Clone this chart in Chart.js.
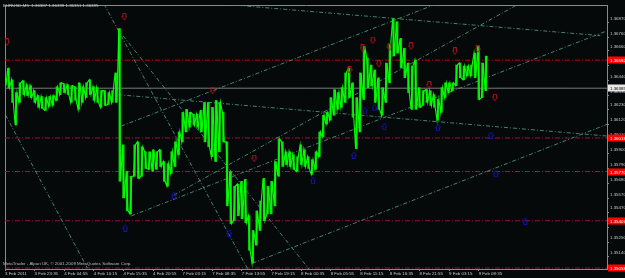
<!DOCTYPE html>
<html><head><meta charset="utf-8">
<script src="https://cdn.jsdelivr.net/npm/chart.js@4/dist/chart.umd.min.js"></script>
<style>html,body{margin:0;padding:0;background:#000;}#wrap{width:625px;height:278px;position:relative;}</style>
</head><body><div id="wrap"><canvas id="c"></canvas></div>
<script>
// ---- data (5-minute bar index / price) ----
const symbolHeader = "EURUSD,M5  1.36387 1.36399 1.36351 1.36385";
const copyrightText = "MetaTrader - Alpari UK, \u00A9 2001-2009 MetaQuotes Software Corp.";
const barsPerColumn = 8;
const colHigh = [1.36556,1.36534,1.36447,1.36353,1.36425,1.36440,1.36411,1.36404,1.36367,1.36331,
1.36324,1.36316,1.36324,1.36331,1.36396,1.36425,1.36418,1.36411,1.36404,1.36396,
1.36425,1.36396,1.36425,1.36447,1.36396,1.36389,1.36367,1.36367,1.36353,1.36367,
1.36498,1.36825,1.35967,1.35771,1.35735,1.35967,1.35989,1.35953,1.35916,1.35916,
1.35931,1.35916,1.35931,1.35844,1.35829,1.35916,1.35989,1.36062,1.36207,1.36229,
1.36207,1.36193,1.36193,1.36222,1.36280,1.36280,1.36244,1.36295,1.36280,1.36207,
1.35989,1.35771,1.35662,1.35677,1.35698,1.35713,1.35444,1.35335,1.35480,1.35553,
1.35720,1.35662,1.35698,1.35844,1.36011,1.35989,1.35916,1.35916,1.35895,1.35880,
1.35967,1.35931,1.35880,1.35858,1.35916,1.36062,1.36185,1.36207,1.36316,1.36375,
1.36353,1.36389,1.36498,1.36534,1.36425,1.36316,1.36498,1.36694,1.36607,1.36556,
1.36520,1.36462,1.36389,1.36571,1.36716,1.36898,1.36876,1.36753,1.36680,1.36571,
1.36549,1.36593,1.36389,1.36367,1.36375,1.36367,1.36338,1.36302,1.36389,1.36425,
1.36425,1.36425,1.36556,1.36571,1.36549,1.36549,1.36556,1.36643,1.36694,1.36571,
1.36622];
const colLow = [1.36404,1.36389,1.36280,1.36113,1.36280,1.36338,1.36331,1.36316,1.36280,1.36244,
1.36236,1.36222,1.36251,1.36258,1.36295,1.36338,1.36353,1.36338,1.36280,1.36295,
1.36229,1.36280,1.36316,1.36338,1.36295,1.36280,1.36244,1.36258,1.36265,1.36280,
1.36280,1.35698,1.35575,1.35480,1.35458,1.35735,1.35720,1.35735,1.35793,1.35786,
1.35771,1.35786,1.35807,1.35698,1.35662,1.35757,1.35807,1.35895,1.35989,1.36062,
1.36098,1.36113,1.36098,1.36062,1.35989,1.35953,1.35880,1.35844,1.35916,1.35989,
1.35517,1.35386,1.35408,1.35444,1.35422,1.35393,1.35189,1.35095,1.35226,1.35335,
1.35408,1.35458,1.35458,1.35517,1.35735,1.35807,1.35822,1.35807,1.35786,1.35771,
1.35822,1.35807,1.35793,1.35749,1.35786,1.35880,1.36026,1.36120,1.36149,1.36185,
1.36229,1.36244,1.36280,1.36316,1.36171,1.35938,1.36062,1.36302,1.36389,1.36404,
1.36280,1.36229,1.36185,1.36280,1.36425,1.36622,1.36643,1.36534,1.36462,1.36353,
1.36229,1.36229,1.36244,1.36258,1.36280,1.36258,1.36244,1.36149,1.36207,1.36316,
1.36353,1.36367,1.36404,1.36462,1.36447,1.36476,1.36476,1.36462,1.36302,1.36316,
1.36367];
const xTickBars = [0,64,128,192,256,320,384,448,512,576,640,704,768,832,896,960,1024];
const xTickLabels = ["3 Feb 2011","3 Feb 23:35","4 Feb 04:55","4 Feb 10:15","4 Feb 15:35","4 Feb 20:55",
"7 Feb 03:15","7 Feb 08:35","7 Feb 13:55","7 Feb 19:15","8 Feb 00:35","8 Feb 05:55","8 Feb 11:15",
"8 Feb 16:35","8 Feb 21:55","9 Feb 03:15","9 Feb 08:35"];
const yTickValues = [1.36870,1.36760,1.36660,1.36550,1.36440,1.36330,1.36230,1.36120,1.36010,
1.35900,1.35790,1.35680,1.35570,1.35470,1.35360,1.35250,1.35140];
const levelPrices = [1.36592,1.36018,1.35770,1.35407,1.35058];
const levelColors = ["#c80000","#a0103c","#b01040","#901048","#901048"];
const bidPrice = 1.36385;
const trendStartBar   = [-127, 214, 243, 535, 273, 245, 251, 427, 365];
const trendStartPrice = [1.37006,1.37006,1.36824,1.35094,1.35443,1.36337,1.36105,1.37018,1.35596];
const trendEndBar     = [178, 526, 664, 1302, 1297, 1302, 932, 1287, 1110];
const trendEndPrice   = [1.35058,1.35043,1.35021,1.36119,1.36802,1.36032,1.37006,1.36773,1.37006];
const upFractalBars   = [4,258,449,539,745,773,795,808,831,878,917,973,1022,1059];
const upFractalPrices = [1.36723,1.36911,1.36366,1.35865,1.36519,1.36679,1.36737,1.36563,1.36686,1.36693,1.36410,1.36657,1.36672,1.36315];
const downFractalBars   = [260,365,485,666,754,778,799,820,936,1050,1061,1125];
const downFractalPrices = [1.35356,1.35596,1.35319,1.35705,1.35894,1.36221,1.36243,1.36105,1.36097,1.36039,1.35756,1.35407];

// ---- styling ----
const FONT = '4.4px "Liberation Sans", Arial, sans-serif';
const AXIS = '#8a8a8a';
const TEXT = '#c8c8c8';

function arrowImg(down, color){
  const c = document.createElement('canvas'); c.width = 6; c.height = 8;
  const g = c.getContext('2d'); g.strokeStyle = color; g.lineWidth = 1;
  g.beginPath();
  if (down){ g.moveTo(1.5,0.5);g.lineTo(4.5,0.5);g.lineTo(4.5,3.5);g.lineTo(5.5,3.5);g.lineTo(3,7);g.lineTo(0.5,3.5);g.lineTo(1.5,3.5);g.closePath(); }
  else { g.moveTo(1.5,7.5);g.lineTo(4.5,7.5);g.lineTo(4.5,4.5);g.lineTo(5.5,4.5);g.lineTo(3,1);g.lineTo(0.5,4.5);g.lineTo(1.5,4.5);g.closePath(); }
  g.stroke(); return c;
}

// zigzag path through each column's range (order follows the direction of the next column)
const zig = [];
colHigh.forEach((h,i)=>{
  const l = colLow[i], b = i*barsPerColumn;
  const mid = (h+l)/2;
  const nxt = i+1<colHigh.length ? (colHigh[i+1]+colLow[i+1])/2 : mid;
  if (nxt >= mid){ zig.push({x:b-2,y:l}); zig.push({x:b+2,y:h}); }
  else { zig.push({x:b-2,y:h}); zig.push({x:b+2,y:l}); }
});

const datasets = [];
levelPrices.forEach((p,i)=>datasets.push({type:'line', data:[{x:0,y:p},{x:1302,y:p}], borderColor:levelColors[i],
  borderWidth:1, borderDash:[5,2,1,2], pointRadius:0, order:5}));
datasets.push({type:'line', data:[{x:0,y:bidPrice},{x:1302,y:bidPrice}], borderColor:'#7a7a7a', borderWidth:1, pointRadius:0, order:5});
trendStartBar.forEach((b,i)=>datasets.push({type:'line', data:[{x:b,y:trendStartPrice[i]},{x:trendEndBar[i],y:trendEndPrice[i]}],
  borderColor:'rgba(80,150,135,0.85)', borderWidth:1, borderDash:[4,2,1,2], pointRadius:0, order:4}));
datasets.push({type:'bar', data:colHigh.map((h,i)=>({x:i*barsPerColumn, y:[colLow[i], h]})),
  backgroundColor:'#00e000', borderWidth:0, barThickness:1.6, order:3});
datasets.push({type:'line', data:zig, borderColor:'#00ff00', borderWidth:1.1, pointRadius:0, tension:0, order:2});
datasets.push({type:'scatter', data:upFractalBars.map((b,i)=>({x:b,y:upFractalPrices[i]})), pointStyle:arrowImg(true,'#b0101e'), order:1});
datasets.push({type:'scatter', data:downFractalBars.map((b,i)=>({x:b,y:downFractalPrices[i]})), pointStyle:arrowImg(false,'#1414b4'), order:1});

const bg = {id:'bg', beforeDraw(ch){const c=ch.ctx;c.save();c.fillStyle='#050909';c.fillRect(0,0,ch.width,ch.height);c.restore();}};
const overlay = {id:'overlay', afterDraw(ch){
  const c=ch.ctx, ys=ch.scales.y, a=ch.chartArea;
  c.save(); c.font=FONT; c.textBaseline='middle'; c.textAlign='left';
  levelPrices.forEach(p=>{const py=Math.round(ys.getPixelForValue(p));
    c.fillStyle='#ff0000'; c.fillRect(a.right+1,py-3.5,18,7); c.fillStyle='#ffffff'; c.fillText(p.toFixed(5),a.right+3,py+0.5);});
  const by=Math.round(ys.getPixelForValue(bidPrice));
  c.fillStyle='#e8e8e8'; c.fillRect(a.right+1,by-3.5,18,7); c.fillStyle='#000'; c.fillText(bidPrice.toFixed(5),a.right+3,by+0.5);
  c.fillStyle=TEXT; c.fillText(symbolHeader,3,5.5);
  c.fillStyle='#bdbdbd'; c.fillText(copyrightText,3,263.5);
  c.restore();
}};

new Chart(document.getElementById('c'), {
  type:'bar',
  data:{datasets},
  plugins:[bg, overlay],
  options:{
    responsive:true, maintainAspectRatio:false, animation:false, events:[],
    layout:{padding:0},
    plugins:{legend:{display:false}, tooltip:{enabled:false}},
    scales:{
      x:{type:'linear', position:'bottom', min:0, max:1301.5, offset:false,
        afterFit(s){s.height=9;},
        afterBuildTicks(s){s.ticks=xTickBars.map(v=>({value:v}));},
        grid:{display:true, drawOnChartArea:false, drawTicks:true, tickLength:2, color:AXIS, offset:false},
        border:{display:true, color:AXIS, width:1},
        ticks:{autoSkip:false, maxRotation:0, minRotation:0, align:'start', padding:0, color:TEXT,
          font:{family:'"Liberation Sans", Arial', size:4.4}, callback:(v,i)=>xTickLabels[i]}},
      xTop:{type:'linear', position:'top', min:0, max:1301.5, afterFit(s){s.height=1;},
        grid:{display:false}, border:{display:true,color:AXIS,width:1}, ticks:{display:false}},
      y:{type:'linear', position:'right', min:1.35051, max:1.36999,
        afterFit(s){s.width=18;},
        afterBuildTicks(s){s.ticks=yTickValues.map(v=>({value:v}));},
        grid:{display:true, drawOnChartArea:false, drawTicks:true, tickLength:2, color:AXIS},
        border:{display:true, color:AXIS, width:1},
        ticks:{autoSkip:false, padding:1, labelOffset:-4, color:TEXT,
          font:{family:'"Liberation Sans", Arial', size:4.4}, callback:(v)=>v.toFixed(5)}},
      yLeft:{type:'linear', position:'left', min:1.35051, max:1.36999, afterFit(s){s.width=1;},
        grid:{display:false}, border:{display:true,color:AXIS,width:1}, ticks:{display:false}}
    }
  }
});
</script></body></html>
